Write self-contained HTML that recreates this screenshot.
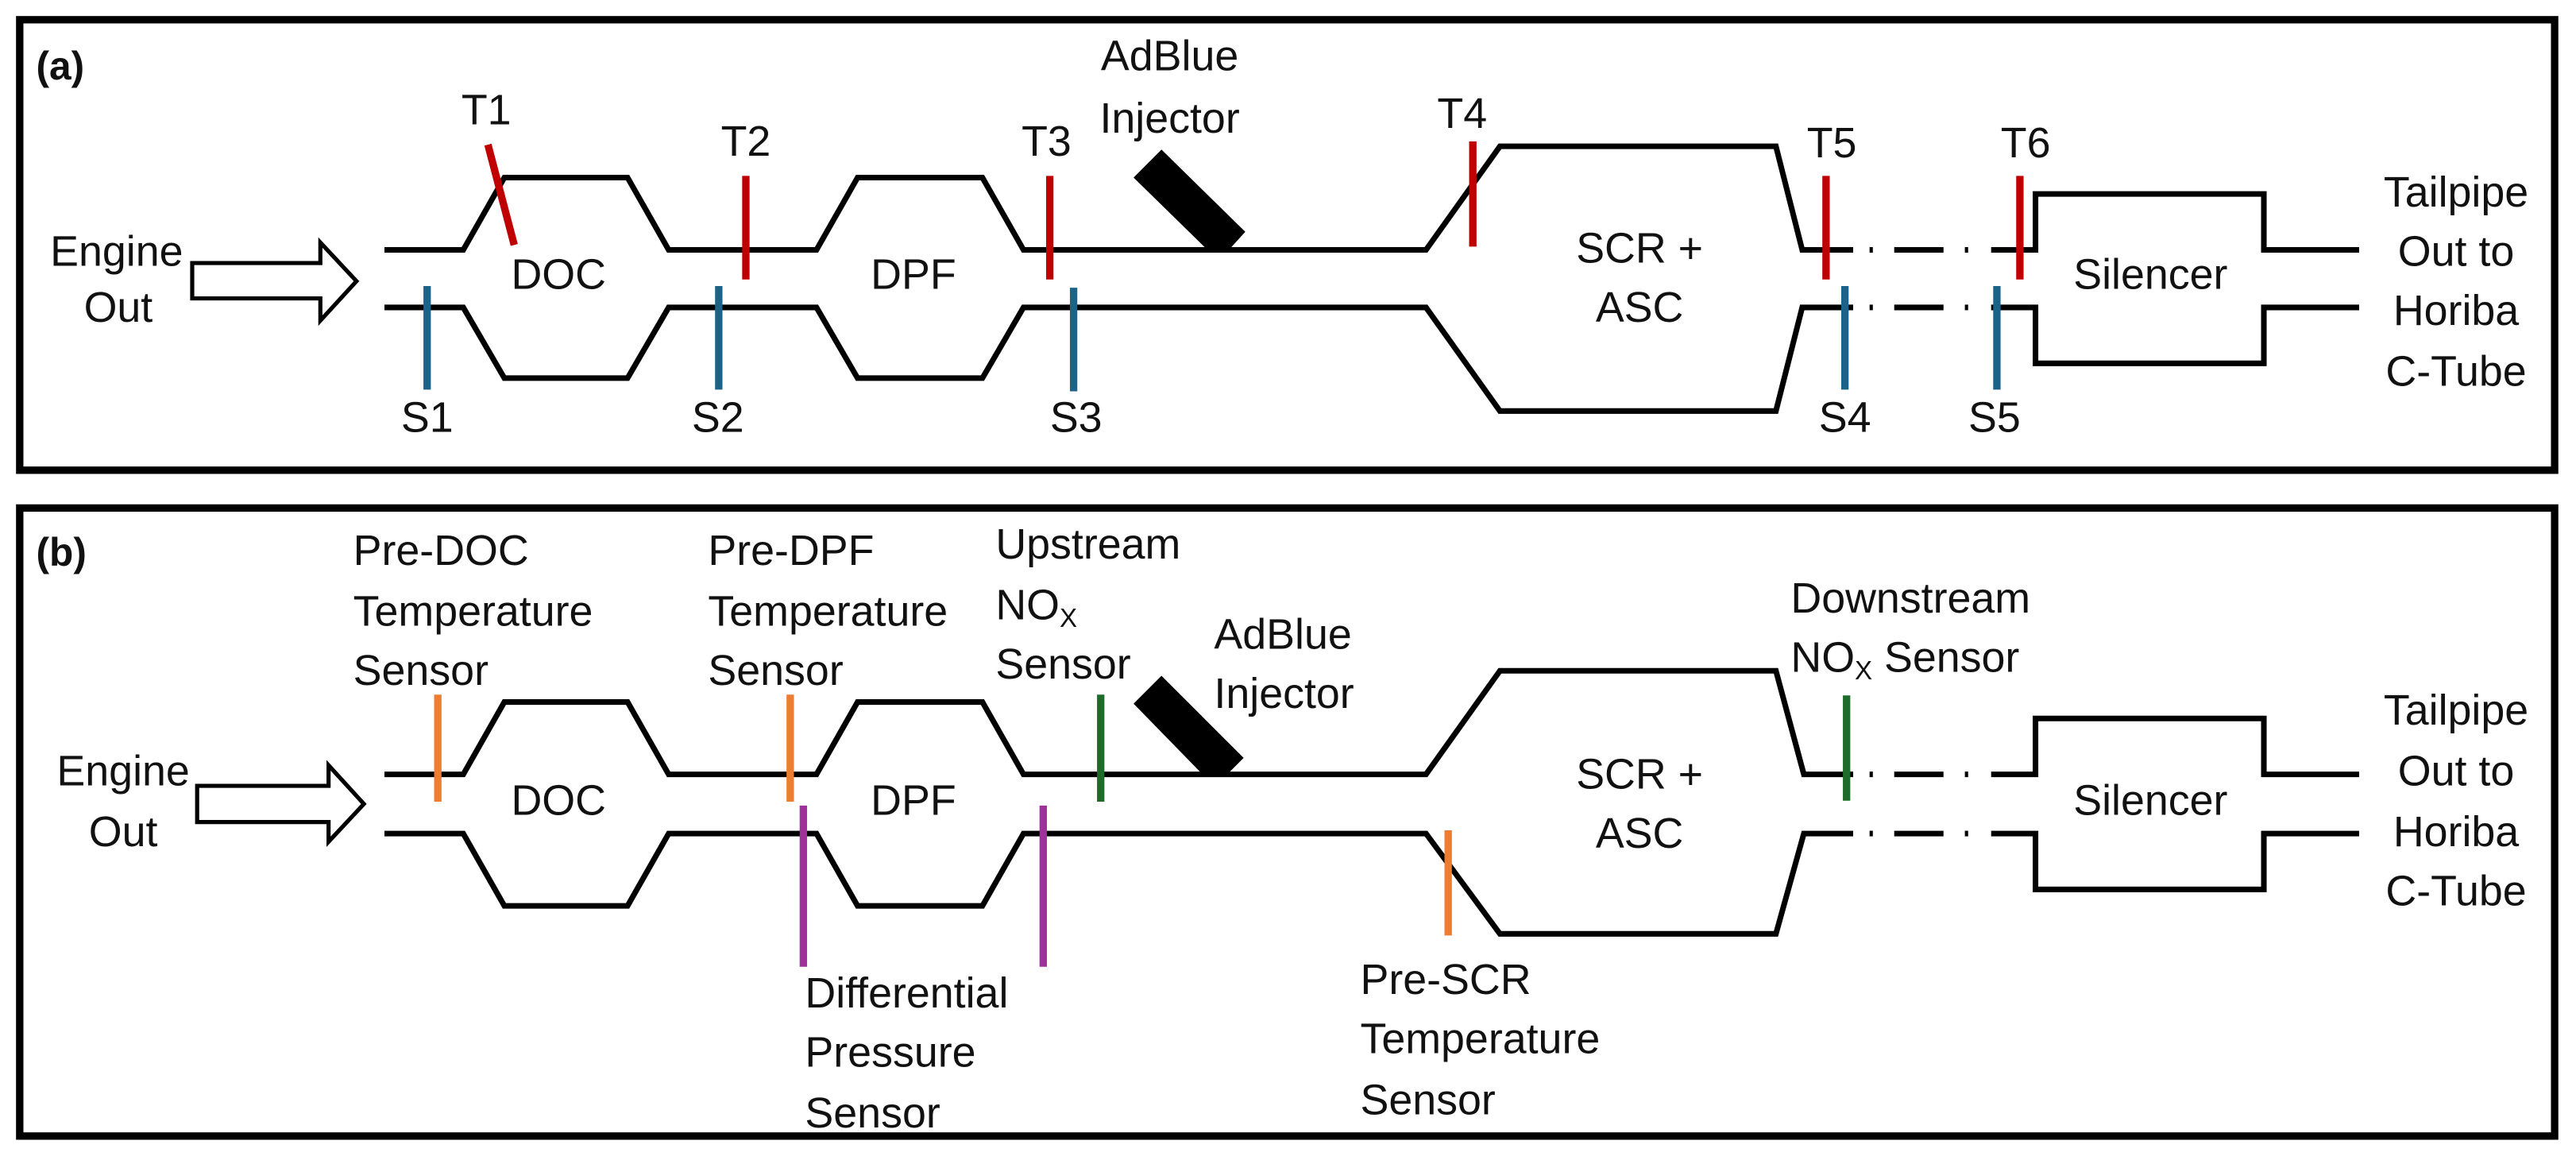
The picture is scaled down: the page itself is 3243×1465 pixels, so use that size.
<!DOCTYPE html>
<html><head><meta charset="utf-8"><style>
html,body{margin:0;padding:0;background:#fff;}
svg{display:block;}
text{font-family:"Liberation Sans",sans-serif;font-size:26px;fill:#111;dominant-baseline:central;}
</style></head><body>
<svg width="3243" height="1465" viewBox="0 0 1568 708" preserveAspectRatio="none" xmlns="http://www.w3.org/2000/svg">
<rect x="0" y="0" width="1568" height="708" fill="#fff"/>
<rect x="12" y="12" width="1543" height="274" fill="none" stroke="#000" stroke-width="4.5"/>
<rect x="12" y="309" width="1543" height="382" fill="none" stroke="#000" stroke-width="4.5"/>

<!-- ========== Panel (a) ========== -->
<text x="22" y="40" style="font-weight:bold;font-size:24px;dominant-baseline:central">(a)</text>
<g fill="none" stroke="#000" stroke-width="3.4" stroke-linejoin="miter">
<polyline points="234,152 282,152 307,108 382,108 407,152 497,152 522,108 598,108 623,152 868,152 913,89 1081,89 1097,152 1128,152"/>
<polyline points="234,187 282,187 307,230 382,230 407,187 497,187 522,230 598,230 623,187 868,187 913,250 1081,250 1097,187 1128,187"/>
<line x1="1138" y1="152" x2="1140" y2="152"/><line x1="1153" y1="152" x2="1183" y2="152"/><line x1="1196" y1="152" x2="1198" y2="152"/>
<line x1="1138" y1="187" x2="1140" y2="187"/><line x1="1153" y1="187" x2="1183" y2="187"/><line x1="1196" y1="187" x2="1198" y2="187"/>
<polyline points="1212,152 1239,152 1239,118 1378,118 1378,152 1436,152"/>
<polyline points="1212,187 1239,187 1239,221 1378,221 1378,187 1436,187"/>
</g>
<polygon points="117,160 195,160 195,147.5 217,171 195,195 195,181.5 117,181.5" fill="#fff" stroke="#000" stroke-width="2.5"/>
<polygon points="690,108 707,91 758,141 748,152 735,152" fill="#000"/>
<g stroke="#c00000" stroke-width="4.5">
<line x1="297" y1="88" x2="313" y2="149"/>
<line x1="454" y1="107" x2="454" y2="170"/>
<line x1="639" y1="107" x2="639" y2="170"/>
<line x1="896.5" y1="86" x2="896.5" y2="150"/>
<line x1="1111.5" y1="107" x2="1111.5" y2="170"/>
<line x1="1229.5" y1="107" x2="1229.5" y2="170"/>
</g>
<g stroke="#1b6388" stroke-width="4.5">
<line x1="260" y1="174" x2="260" y2="237"/>
<line x1="437.5" y1="174" x2="437.5" y2="237"/>
<line x1="653.5" y1="175" x2="653.5" y2="238"/>
<line x1="1123" y1="174" x2="1123" y2="237"/>
<line x1="1215.5" y1="174" x2="1215.5" y2="237"/>
</g>
<g text-anchor="middle">
<text x="296" y="67">T1</text><text x="454" y="86">T2</text><text x="637" y="86">T3</text>
<text x="890" y="69">T4</text><text x="1115" y="87">T5</text><text x="1233" y="87">T6</text>
<text x="260" y="254">S1</text><text x="437" y="254">S2</text><text x="655" y="254">S3</text>
<text x="1123" y="254">S4</text><text x="1214" y="254">S5</text>
<text x="71" y="153">Engine</text><text x="72" y="187">Out</text>
<text x="340" y="167">DOC</text><text x="556" y="167">DPF</text>
<text x="712" y="34">AdBlue</text><text x="712" y="72">Injector</text>
<text x="998" y="151">SCR +</text><text x="998" y="187">ASC</text>
<text x="1309" y="167">Silencer</text>
<text x="1495" y="117">Tailpipe</text><text x="1495" y="153">Out to</text>
<text x="1495" y="189">Horiba</text><text x="1495" y="226">C-Tube</text>
</g>

<!-- ========== Panel (b) ========== -->
<text x="22" y="336" style="font-weight:bold;font-size:24px;dominant-baseline:central">(b)</text>
<g fill="none" stroke="#000" stroke-width="3.4">
<polyline points="234,471 282,471 307,427 382,427 407,471 497,471 522,427 598,427 623,471 868,471 913,408 1081,408 1098,471 1128,471"/>
<polyline points="234,507 282,507 307,551 382,551 407,507 497,507 522,551 598,551 623,507 868,507 913,568 1081,568 1098,507 1128,507"/>
<line x1="1138" y1="471" x2="1140" y2="471"/><line x1="1153" y1="471" x2="1183" y2="471"/><line x1="1196" y1="471" x2="1198" y2="471"/>
<line x1="1138" y1="507" x2="1140" y2="507"/><line x1="1153" y1="507" x2="1183" y2="507"/><line x1="1196" y1="507" x2="1198" y2="507"/>
<polyline points="1212,471 1239,471 1239,437 1378,437 1378,471 1436,471"/>
<polyline points="1212,507 1239,507 1239,541 1378,541 1378,507 1436,507"/>
</g>
<polygon points="120,478 200,478 200,465.5 221.5,489 200,512 200,500 120,500" fill="#fff" stroke="#000" stroke-width="2.5"/>
<polygon points="690,428 707,411 757,461 747,471 732,471" fill="#000"/>
<g stroke-width="4.5">
<line x1="266.5" y1="422.5" x2="266.5" y2="487.6" stroke="#ed7d31"/>
<line x1="481" y1="422.5" x2="481" y2="487.6" stroke="#ed7d31"/>
<line x1="881.5" y1="505" x2="881.5" y2="569" stroke="#ed7d31"/>
<line x1="670" y1="422.5" x2="670" y2="487.6" stroke="#1e6b2a"/>
<line x1="1124" y1="423" x2="1124" y2="487" stroke="#1e6b2a"/>
<line x1="489" y1="490" x2="489" y2="588" stroke="#a0309a"/>
<line x1="635" y1="490" x2="635" y2="588" stroke="#a0309a"/>
</g>
<g>
<text x="215" y="335">Pre-DOC</text><text x="215" y="372">Temperature</text><text x="215" y="408">Sensor</text>
<text x="431" y="335">Pre-DPF</text><text x="431" y="372">Temperature</text><text x="431" y="408">Sensor</text>
<text x="606" y="331">Upstream</text><text x="606" y="368">NO<tspan font-size="16" dy="8">X</tspan></text><text x="606" y="404">Sensor</text>
<text x="739" y="386">AdBlue</text><text x="739" y="422">Injector</text>
<text x="1090" y="364">Downstream</text><text x="1090" y="400">NO<tspan font-size="16" dy="8">X</tspan><tspan dy="-8"> Sensor</tspan></text>
<text x="490" y="604">Differential</text><text x="490" y="640">Pressure</text><text x="490" y="677">Sensor</text>
<text x="828" y="596">Pre-SCR</text><text x="828" y="632">Temperature</text><text x="828" y="669">Sensor</text>
</g>
<g text-anchor="middle">
<text x="75" y="469">Engine</text><text x="75" y="506">Out</text>
<text x="340" y="487">DOC</text><text x="556" y="487">DPF</text>
<text x="998" y="471">SCR +</text><text x="998" y="507">ASC</text>
<text x="1309" y="487">Silencer</text>
<text x="1495" y="432">Tailpipe</text><text x="1495" y="469">Out to</text>
<text x="1495" y="506">Horiba</text><text x="1495" y="542">C-Tube</text>
</g>
</svg>
</body></html>
